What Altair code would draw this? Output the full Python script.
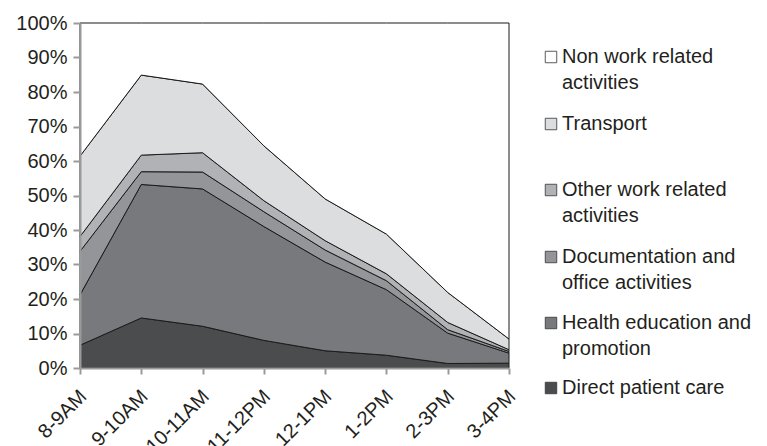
import altair as alt
import pandas as pd

# ---- data ----
slots = ["8-9AM", "9-10AM", "10-11AM", "11-12PM", "12-1PM", "1-2PM", "2-3PM", "3-4PM"]
series = [
    "Direct patient care",
    "Health education and promotion",
    "Documentation and office activities",
    "Other work related activities",
    "Transport",
    "Non work related activities",
]
direct_care = [6.6, 14.5, 12.1, 8.0, 5.0, 3.7, 1.3, 1.4]
health_edu = [14.6, 38.7, 39.8, 33.0, 25.7, 19.0, 8.8, 2.9]
documentation = [12.6, 3.7, 4.9, 4.3, 3.5, 2.6, 1.0, 0.5]
other_work = [4.3, 4.8, 5.6, 3.2, 2.7, 2.0, 2.1, 0.5]
transport = [23.3, 23.2, 19.9, 15.9, 12.1, 11.5, 8.7, 3.1]
non_work = [38.6, 15.1, 17.7, 35.6, 51.0, 61.2, 78.1, 91.6]
values = [direct_care, health_edu, documentation, other_work, transport, non_work]

colors = ["#4b4c4e", "#78797c", "#939598", "#b0b2b5", "#dcdddf", "#ffffff"]

rows = []
for k, (name, vals) in enumerate(zip(series, values)):
    for s, v in zip(slots, vals):
        rows.append({"slot": s, "series": name, "k": k, "share": v / 100.0})
df = pd.DataFrame(rows)

# ---- legend layout (pixel rows, relative to plot origin) ----
legend_lines = [
    ("Non work related activities", ["Non work related", "activities"], 34),
    ("Transport", ["Transport"], 101),
    ("Other work related activities", ["Other work related", "activities"], 167),
    ("Documentation and office activities", ["Documentation and", "office activities"], 234),
    ("Health education and promotion", ["Health education and", "promotion"], 300),
    ("Direct patient care", ["Direct patient care"], 365),
]
LINE_H = 26
sym_rows, txt_rows = [], []
for name, lines, y0 in legend_lines:
    sym_rows.append({"series": name, "ly": y0})
    for i, ln in enumerate(lines):
        txt_rows.append({"line": ln, "ly": y0 + i * LINE_H})
sym_df = pd.DataFrame(sym_rows)
txt_df = pd.DataFrame(txt_rows)

FONT = "Liberation Sans"
color_scale = alt.Scale(domain=series, range=colors)

area = alt.Chart(df).mark_area(stroke="#1a1a1a", strokeWidth=1, opacity=1).encode(
    x=alt.X(
        "slot:N",
        sort=slots,
        scale=alt.Scale(padding=0),
        axis=alt.Axis(
            title=None,
            labelAngle=-45,
            labelAlign="right",
            labelBaseline="middle",
            labelFontSize=20,
            labelFont=FONT,
            labelColor="#231f20",
            labelPadding=19,
            labelOffset=3,
            domainColor="#9a9a9a",
            domainWidth=2,
            tickColor="#9a9a9a",
            tickWidth=2,
            tickSize=6,
            zindex=1,
        ),
    ),
    y=alt.Y(
        "share:Q",
        stack="zero",
        scale=alt.Scale(domain=[0, 1], nice=False),
        axis=alt.Axis(
            title=None,
            format=".0%",
            values=[i / 10 for i in range(11)],
            labelFontSize=20,
            labelFont=FONT,
            labelColor="#231f20",
            labelPadding=6,
            domainColor="#9a9a9a",
            domainWidth=2,
            tickColor="#9a9a9a",
            tickWidth=2,
            tickSize=7,
            grid=False,
            zindex=1,
        ),
    ),
    color=alt.Color("series:N", scale=color_scale, legend=None),
    order=alt.Order("k:Q", sort="ascending"),
)

legend_sym = alt.Chart(sym_df).mark_square(size=132, stroke="#333333", strokeWidth=0.8, opacity=1).encode(
    x=alt.value(471),
    y=alt.Y("ly:Q", scale=None, axis=None),
    color=alt.Color("series:N", scale=color_scale, legend=None),
)

legend_txt = alt.Chart(txt_df).mark_text(
    align="left", baseline="middle", fontSize=20, font=FONT, color="#231f20"
).encode(
    x=alt.value(482),
    y=alt.Y("ly:Q", scale=None, axis=None),
    text="line:N",
)

chart = (
    alt.layer(area, legend_sym, legend_txt)
    .resolve_scale(y="independent")
    .properties(
        width=429,
        height=345,
        autosize=alt.AutoSizeParams(type="none"),
        padding={"left": 80, "top": 23, "right": 258, "bottom": 78},
        background="white",
    )
    .configure_view(stroke=None)
)

chart.save("out.html", embed_options={"renderer": "svg", "actions": False})
